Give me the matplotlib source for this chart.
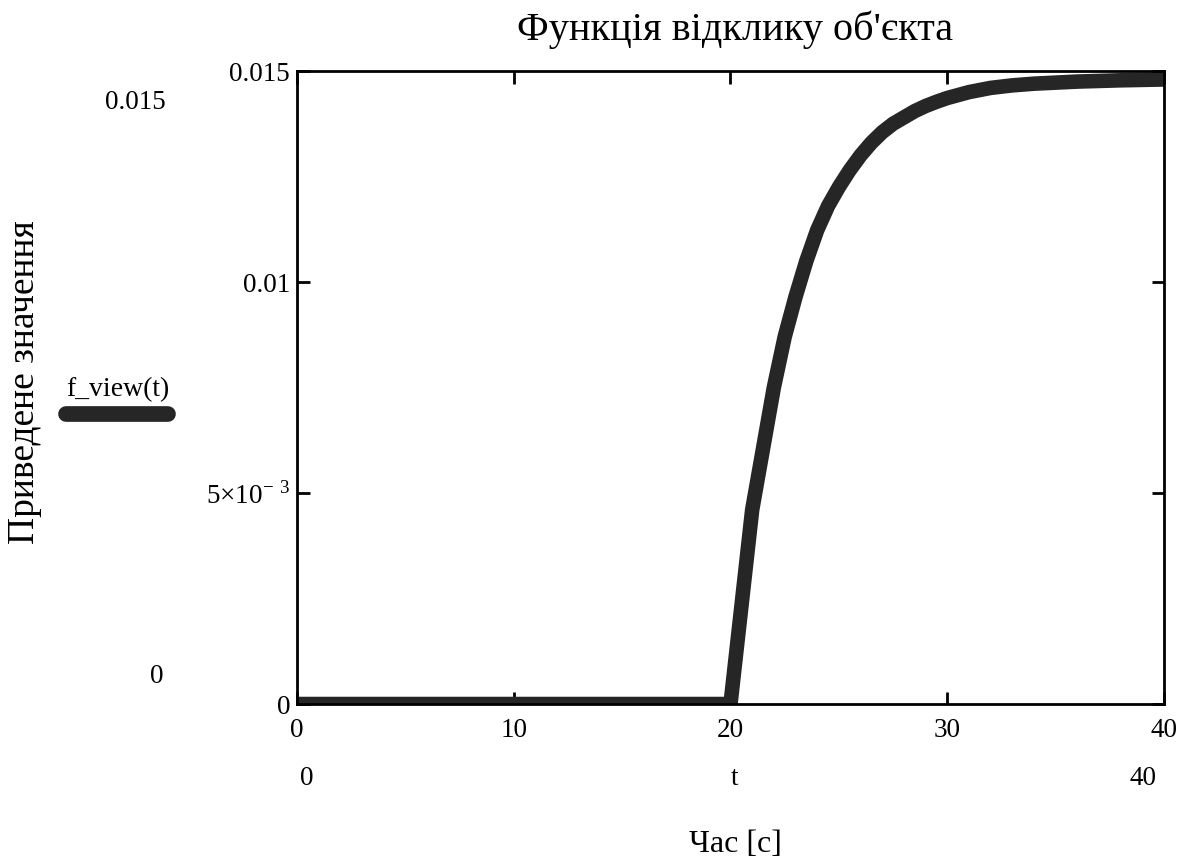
import matplotlib
matplotlib.use("Agg")
import matplotlib.pyplot as plt
from matplotlib.lines import Line2D

# response of the object
t_vals = [0, 5, 10, 15, 19, 20, 21, 22, 22.5, 23, 23.5, 24, 24.5, 25, 25.5, 26, 26.5,
          27, 27.5, 28, 28.5, 29, 29.5, 30, 31, 32, 33, 34, 36, 38, 40]
f_vals = [0, 0, 0, 0, 0, 0, 0.0046, 0.0075, 0.0087, 0.00965, 0.0105, 0.01123, 0.0118,
          0.01225, 0.01265, 0.0130, 0.0133, 0.01355, 0.01375, 0.0139, 0.01405, 0.01417,
          0.01427, 0.01436, 0.0145, 0.0146, 0.01466, 0.0147, 0.01475, 0.01478, 0.0148]

x_ticks = [0, 10, 20, 30, 40]
y_ticks = [0, 0.005, 0.01, 0.015]
y_tick_labels = ["0", r"5×10$^{\mathrm{-\ 3}}$", "0.01", "0.015"]

title = "Функція відклику об'єкта"
x_label = "Час [с]"
y_label = "Приведене значення"
legend_label = "f_view(t)"

plt.rcParams["font.family"] = ["Liberation Serif", "DejaVu Serif"]
plt.rcParams["mathtext.fontset"] = "custom"
plt.rcParams["mathtext.rm"] = "Liberation Serif"

ink = "#262626"

fig = plt.figure(figsize=(11.99, 8.63), dpi=100)
ax = fig.add_axes([0.2477, 0.1842, 0.7231, 0.7335])

ax.plot(t_vals, f_vals, color=ink, lw=10.5, solid_capstyle="butt", solid_joinstyle="round")
ax.set_xlim(0, 40)
ax.set_ylim(0, 0.015)

ax.set_xticks(x_ticks)
ax.set_xticklabels([str(v) for v in x_ticks])
ax.set_yticks(y_ticks)
ax.set_yticklabels(y_tick_labels)
ax.tick_params(direction="in", length=9, width=2, top=True, right=True,
               labelsize=19.5, color="black", pad=5)
ax.tick_params(axis="x", pad=10)
for s in ax.spines.values():
    s.set_linewidth(2)

fig.text(0.613, 0.965, title, ha="center", va="center", fontsize=29)
fig.text(0.613, 0.021, x_label, ha="center", va="center", fontsize=23)
fig.text(0.021, 0.557, y_label, ha="center", va="center", rotation=90, fontsize=27)

# Mathcad-style range / variable labels around the plot
fig.text(0.113, 0.881, "0.015", ha="center", va="center", fontsize=19.5)
fig.text(0.131, 0.216, "0", ha="center", va="center", fontsize=19.5)
fig.text(0.256, 0.098, "0", ha="center", va="center", fontsize=19.5)
fig.text(0.613, 0.098, "t", ha="center", va="center", fontsize=19.5)
fig.text(0.953, 0.098, "40", ha="center", va="center", fontsize=19.5)

# legend sample
fig.text(0.098, 0.548, legend_label, ha="center", va="center", fontsize=20)
fig.add_artist(Line2D([0.055, 0.140], [0.520, 0.520], transform=fig.transFigure,
                      color=ink, lw=11.3, solid_capstyle="round"))

fig.savefig("out.png", dpi=100)
